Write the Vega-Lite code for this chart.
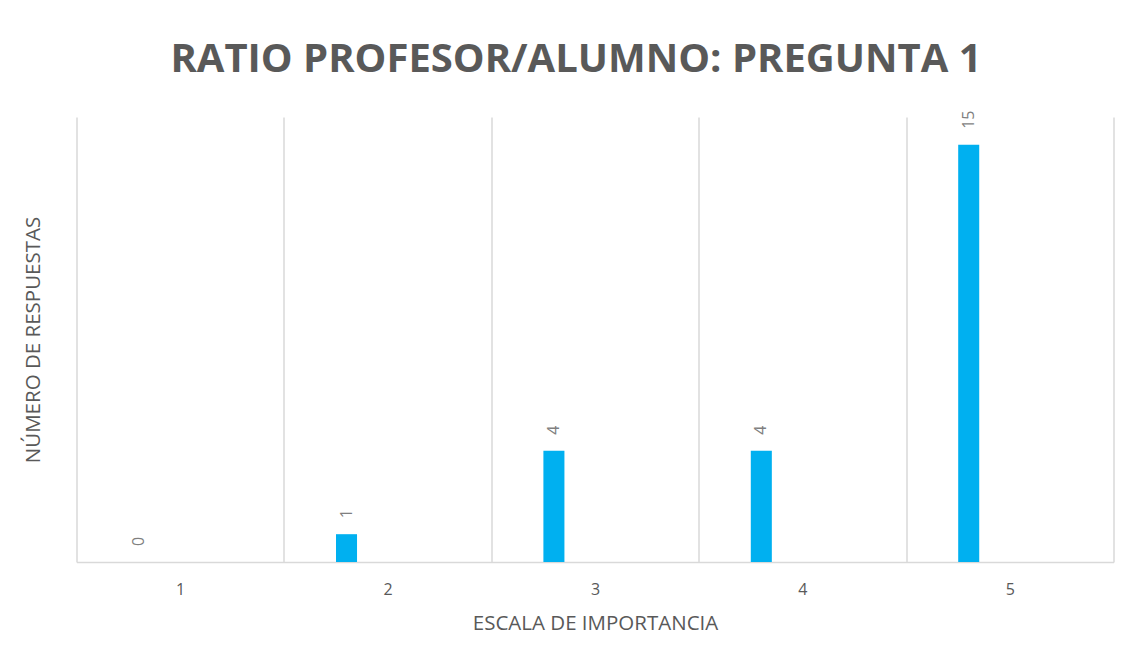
{
  "$schema": "https://vega.github.io/schema/vega-lite/v6.json",
  "autosize": "none",
  "width": 1037,
  "height": 445,
  "padding": {"left": 76.5, "top": 117, "right": 14.5, "bottom": 101},
  "background": "white",
  "config": {
    "font": "Open Sans",
    "view": {"stroke": null}
  },
  "title": {
    "text": "RATIO PROFESOR/ALUMNO: PREGUNTA 1",
    "font": "Open Sans",
    "fontSize": 40,
    "fontWeight": "bold",
    "color": "#595959",
    "anchor": "middle",
    "baseline": "alphabetic",
    "offset": -1,
    "dx": -19
  },
  "data": {
    "values": [
      {"escala": "1", "serie": "A", "respuestas": 0},
      {"escala": "2", "serie": "A", "respuestas": 1},
      {"escala": "3", "serie": "A", "respuestas": 4},
      {"escala": "4", "serie": "A", "respuestas": 4},
      {"escala": "5", "serie": "A", "respuestas": 15}
    ]
  },
  "encoding": {
    "x": {
      "field": "escala",
      "type": "ordinal",
      "scale": {"paddingInner": 0, "paddingOuter": 0},
      "axis": {
        "title": "ESCALA DE IMPORTANCIA",
        "titleFont": "Open Sans",
        "titleFontSize": 20.5,
        "titleFontWeight": "normal",
        "titleColor": "#595959",
        "titlePadding": 16,
        "labelAngle": 0,
        "labelFont": "Open Sans",
        "labelFontSize": 16,
        "labelColor": "#595959",
        "labelPadding": 19,
        "ticks": false,
        "tickBand": "extent",
        "grid": true,
        "gridColor": "#d9d9d9",
        "gridWidth": 1.5,
        "domainColor": "#d9d9d9",
        "domainWidth": 1.5
      }
    },
    "xOffset": {
      "field": "serie",
      "type": "nominal",
      "scale": {"domain": ["A", "B"], "paddingInner": 0.744, "paddingOuter": 0.634}
    },
    "y": {
      "field": "respuestas",
      "type": "quantitative",
      "scale": {"domain": [0, 16], "nice": false},
      "axis": {
        "title": "NÚMERO DE RESPUESTAS",
        "titleFont": "Open Sans",
        "titleFontSize": 20.5,
        "titleFontWeight": "normal",
        "titleColor": "#595959",
        "titlePadding": 33,
        "labels": false,
        "ticks": false,
        "domain": false,
        "grid": false
      }
    }
  },
  "layer": [
    {"mark": {"type": "bar", "color": "#00B0F0"}},
    {
      "mark": {
        "type": "text",
        "angle": -90,
        "align": "left",
        "baseline": "middle",
        "dx": 16,
        "font": "Open Sans",
        "fontSize": 16,
        "color": "#7f7f7f"
      },
      "encoding": {"text": {"field": "respuestas", "type": "quantitative"}}
    }
  ]
}
